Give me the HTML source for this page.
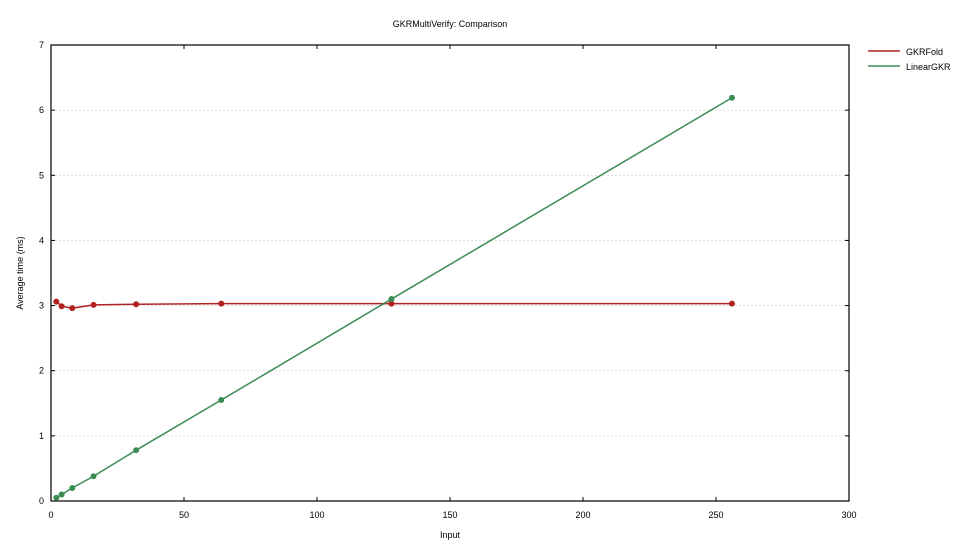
<!DOCTYPE html>
<html><head><meta charset="utf-8"><style>
body{margin:0;background:#fff;font-family:"Liberation Sans",sans-serif;}
svg text{font-family:"Liberation Sans",sans-serif;font-size:9px;fill:#000;}
</style></head><body>
<svg id="chart" width="971" height="555">
<rect width="971" height="555" fill="#fff"/>
<text x="450" y="27" text-anchor="middle">GKRMultiVerify: Comparison</text>
<g id="grid"></g><g id="axes"></g><g id="series"></g>
<text x="450" y="538" text-anchor="middle">Input</text>
<text transform="translate(23,273) rotate(-90)" text-anchor="middle">Average time (ms)</text>
<g>
<line x1="868" y1="51" x2="900" y2="51" stroke="#b22222" stroke-width="1.5"/>
<text x="906" y="55">GKRFold</text>
<line x1="868" y1="66" x2="900" y2="66" stroke="#3b8b55" stroke-width="1.5"/>
<text x="906" y="70">LinearGKR</text>
</g>
</svg>
<script>
const inputs=[2,4,8,16,32,64,128,256];
const gkrFold=[3.06,2.99,2.96,3.01,3.02,3.03,3.03,3.03];
const linearGkr=[0.05,0.1,0.2,0.38,0.78,1.55,3.1,6.19];
const xTicks=[0,50,100,150,200,250,300];
const yTicks=[0,1,2,3,4,5,6,7];
const NS='http://www.w3.org/2000/svg';
const L=51,R=849,T=45,B=501;
const xs=v=>L+(v/300)*(R-L);
const ys=v=>B-(v/7)*(B-T);
function mk(tag,attrs,parent){const e=document.createElementNS(NS,tag);for(const k in attrs)e.setAttribute(k,attrs[k]);parent.appendChild(e);return e;}
const grid=document.getElementById('grid'),axes=document.getElementById('axes'),series=document.getElementById('series');
yTicks.forEach(t=>{
 if(t>0&&t<7){const g=mk('line',{x1:L,x2:R,y1:ys(t),y2:ys(t),stroke:'#ccc','stroke-dasharray':'2,2','stroke-width':0.6},grid);
 
 }
 mk('line',{x1:L,x2:L+4,y1:ys(t),y2:ys(t),stroke:'#000'},axes);
 mk('line',{x1:R,x2:R-4,y1:ys(t),y2:ys(t),stroke:'#000'},axes);
 const tx=mk('text',{x:L-7,y:ys(t)+3,'text-anchor':'end'},axes);tx.textContent=t;
 
 
});
xTicks.forEach(t=>{
 mk('line',{x1:xs(t),x2:xs(t),y1:B,y2:B-4,stroke:'#000'},axes);
 mk('line',{x1:xs(t),x2:xs(t),y1:T,y2:T+4,stroke:'#000'},axes);
 const tx=mk('text',{x:xs(t),y:B+17,'text-anchor':'middle'},axes);tx.textContent=t;
 
 
});
const frame=mk('rect',{x:L,y:T,width:R-L,height:B-T,fill:'none',stroke:'#000','stroke-width':1.2},axes);


function draw(vals,color,name){
 const pts=inputs.map((x,i)=>xs(x)+','+ys(vals[i])).join(' ');
 const pl=mk('polyline',{points:pts,fill:'none',stroke:color,'stroke-width':1.5},series);
 
 
 inputs.forEach((x,i)=>{const c=mk('circle',{cx:xs(x),cy:ys(vals[i]),r:3,fill:color},series);
 
 });
}
draw(gkrFold,'#b22222','gkrfold');
draw(linearGkr,'#3b8b55','lineargkr');
</script>
</body></html>
